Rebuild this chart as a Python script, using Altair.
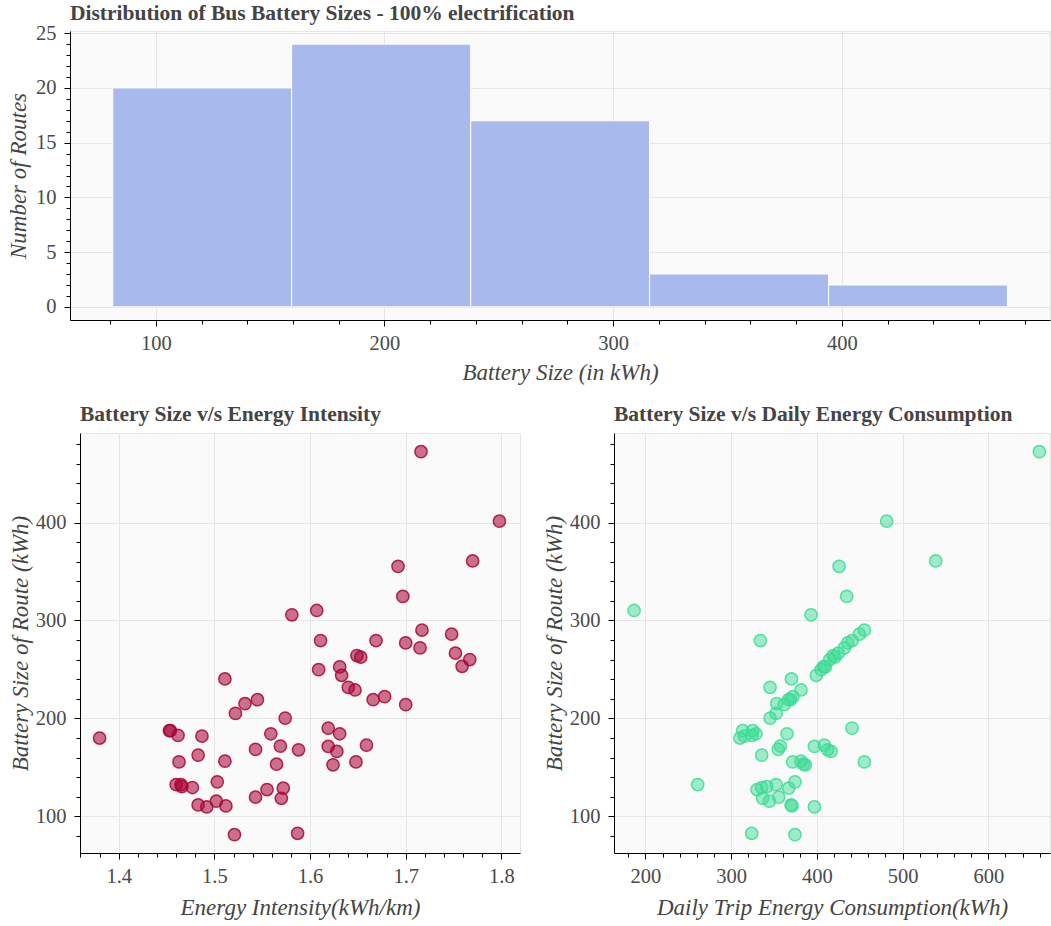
import altair as alt
import pandas as pd

# ---------------- data ----------------
battery = [472.4, 401.4, 360.8, 355.3, 324.6, 305.8, 310.2, 290.1, 286.0, 279.5,
           279.5, 277.1, 272.0, 266.6, 264.2, 262.5, 260.1, 253.2, 249.8, 252.6,
           244.0, 240.3, 231.7, 229.0, 222.2, 219.1, 219.1, 215.0, 214.0, 205.1,
           200.3, 190.1, 187.4, 187.4, 182.6, 181.9, 179.9, 184.3, 184.3, 172.7,
           171.3, 171.7, 168.3, 167.9, 166.2, 162.5, 155.6, 156.3, 155.6, 153.2,
           152.6, 135.2, 132.4, 132.4, 130.4, 129.4, 128.7, 127.3, 119.5, 118.4,
           115.4, 111.6, 109.6, 110.6, 81.2, 82.6]
intensity = [1.716, 1.798, 1.770, 1.692, 1.697, 1.581, 1.607, 1.717, 1.748, 1.611,
             1.669, 1.700, 1.715, 1.752, 1.649, 1.653, 1.767, 1.759, 1.609, 1.631,
             1.633, 1.511, 1.640, 1.647, 1.678, 1.666, 1.545, 1.532, 1.700, 1.522,
             1.574, 1.619, 1.453, 1.454, 1.462, 1.487, 1.380, 1.559, 1.631, 1.659,
             1.619, 1.569, 1.543, 1.588, 1.628, 1.483, 1.463, 1.511, 1.648, 1.565,
             1.624, 1.503, 1.460, 1.465, 1.466, 1.477, 1.572, 1.555, 1.543, 1.570,
             1.502, 1.483, 1.492, 1.512, 1.521, 1.587]
daily = [659.5, 481.4, 538.6, 425.9, 434.8, 393.2, 186.8, 455.4, 449.6, 334.1,
         441.0, 436.0, 432.0, 425.0, 419.0, 421.0, 415.0, 408.0, 405.0, 410.0,
         399.4, 370.3, 345.4, 381.5, 372.0, 369.5, 367.0, 353.2, 362.0, 352.4,
         345.4, 441.0, 313.5, 325.2, 324.4, 315.4, 310.3, 329.0, 365.2, 408.7,
         397.1, 357.4, 355.0, 412.6, 416.5, 335.7, 371.8, 381.5, 455.4, 384.3,
         386.6, 374.5, 261.0, 352.4, 341.5, 335.6, 367.2, 330.2, 355.5, 336.8,
         344.6, 369.9, 397.1, 371.0, 374.5, 324.0]

hist_start = [81.2, 159.4, 237.7, 315.9, 394.2]
hist_end = [159.4, 237.7, 315.9, 394.2, 472.4]
hist_count = [20, 24, 17, 3, 2]

# tick values
top_x_major = [100, 200, 300, 400]
top_x_minor = list(range(80, 481, 20))
top_y_major = [0, 5, 10, 15, 20, 25]
top_y_minor = list(range(0, 26, 1))
bat_major = [100, 200, 300, 400]
bat_minor = list(range(80, 481, 20))
int_major = [1.4, 1.5, 1.6, 1.7, 1.8]
int_minor = [round(1.36 + 0.02 * i, 2) for i in range(23)]
day_major = [200, 300, 400, 500, 600]
day_minor = list(range(180, 661, 20))

FONT = "Liberation Serif"
TXT = "#444444"
LBL = "#4a4a4a"

pts = pd.DataFrame({"battery": battery, "intensity": intensity, "daily": daily})
hist = pd.DataFrame({"start": hist_start, "end": hist_end, "count": hist_count})


def major(title, values, orient, fmt="d", title_pad=6, label_pad=7):
    return alt.Axis(
        title=title, values=values, orient=orient, format=fmt,
        grid=True, gridColor="#E6E6E6", gridWidth=1,
        domain=True, domainColor="#000000", domainWidth=1,
        ticks=True, tickColor="#000000", tickSize=6, tickWidth=1,
        labelFont=FONT, labelFontSize=20.5, labelColor=LBL, labelPadding=label_pad,
        titleFont=FONT, titleFontSize=23, titleFontStyle="italic",
        titleFontWeight="normal", titleColor=TXT, titlePadding=title_pad,
        labelOverlap=False, labelFlush=False,
    )


def minor(values, orient):
    return alt.Axis(
        title=None, values=values, orient=orient, labels=False, grid=False,
        domain=False, ticks=True, tickColor="#000000", tickSize=4, tickWidth=1,
    )


def ttl(text, offset):
    return alt.TitleParams(text=text, anchor="start", frame="group", font=FONT,
                           fontSize=21.5, fontWeight="bold", color=TXT, offset=offset)


# ---------------- top histogram ----------------
tx = alt.Scale(domain=[62.5, 491.0], nice=False, zero=False)
ty = alt.Scale(domain=[-1.2, 25.2], nice=False, zero=False)

bars = alt.Chart(hist).mark_bar(color="#A8B9EE", stroke="#FFFFFF", strokeWidth=1).encode(
    x=alt.X("start:Q", scale=tx, axis=major("Battery Size (in kWh)", top_x_major, "bottom", title_pad=8)),
    x2="end:Q",
    y=alt.Y("count:Q", scale=ty, axis=major("Number of Routes", top_y_major, "left", title_pad=5, label_pad=8)),
    y2=alt.datum(0),
)
bars_minor = alt.Chart(hist).mark_point(opacity=0).encode(
    x=alt.X("start:Q", scale=tx, axis=minor(top_x_minor, "bottom")),
    y=alt.Y("count:Q", scale=ty, axis=minor(top_y_minor, "left")),
)
top = alt.layer(bars, bars_minor).resolve_axis(x="independent", y="independent").properties(
    width=980, height=289, title=ttl("Distribution of Bus Battery Sizes - 100% electrification", -1))

# ---------------- scatter 1 ----------------
by = alt.Scale(domain=[62.5, 491.5], nice=False, zero=False)
ix = alt.Scale(domain=[1.3595, 1.8195], nice=False, zero=False)

s1 = alt.Chart(pts).mark_circle(size=150, color="#A80536", fillOpacity=0.57,
                                stroke="#A80536", strokeOpacity=0.85, strokeWidth=1.5).encode(
    x=alt.X("intensity:Q", scale=ix, axis=major("Energy Intensity(kWh/km)", int_major, "bottom", fmt=".1f", title_pad=10)),
    y=alt.Y("battery:Q", scale=by, axis=major("Battery Size of Route (kWh)", bat_major, "left", title_pad=3, label_pad=8)),
)
s1_minor = alt.Chart(pts).mark_point(opacity=0).encode(
    x=alt.X("intensity:Q", scale=ix, axis=minor(int_minor, "bottom")),
    y=alt.Y("battery:Q", scale=by, axis=minor(bat_minor, "left")),
)
left = alt.layer(s1, s1_minor).resolve_axis(x="independent", y="independent").properties(
    width=440, height=420, title=ttl("Battery Size v/s Energy Intensity", 8))

# ---------------- scatter 2 ----------------
by2 = alt.Scale(domain=[62.5, 491.5], nice=False, zero=False)
dx = alt.Scale(domain=[163.4, 671.9], nice=False, zero=False)

s2 = alt.Chart(pts).mark_circle(size=150, color="#3DDC97", fillOpacity=0.5,
                                stroke="#3DDC97", strokeOpacity=0.85, strokeWidth=1.5).encode(
    x=alt.X("daily:Q", scale=dx, axis=major("Daily Trip Energy Consumption(kWh)", day_major, "bottom", title_pad=10)),
    y=alt.Y("battery:Q", scale=by2, axis=major("Battery Size of Route (kWh)", bat_major, "left", title_pad=3, label_pad=8)),
)
s2_minor = alt.Chart(pts).mark_point(opacity=0).encode(
    x=alt.X("daily:Q", scale=dx, axis=minor(day_minor, "bottom")),
    y=alt.Y("battery:Q", scale=by2, axis=minor(bat_minor, "left")),
)
right = alt.layer(s2, s2_minor).resolve_axis(x="independent", y="independent").properties(
    width=436, height=420, title=ttl("Battery Size v/s Daily Energy Consumption", 8))

# tiny invisible spacer that indents the lower row by 10 px relative to the histogram
spacer = alt.Chart(pd.DataFrame({"v": [0]})).mark_point(opacity=0).properties(width=1, height=1)

bottom = alt.hconcat(spacer, alt.hconcat(left, right, spacing=94, bounds="flush"),
                     spacing=9, bounds="flush")

chart = alt.vconcat(top, bottom, spacing=18).properties(
    padding={"left": 7, "top": 2, "right": 0, "bottom": 0},
    background="#FFFFFF",
).configure_view(fill="#FAFAFA", stroke="#E6E6E6", strokeWidth=1)

chart.save("out.html", embed_options={"renderer": "svg", "actions": False})
